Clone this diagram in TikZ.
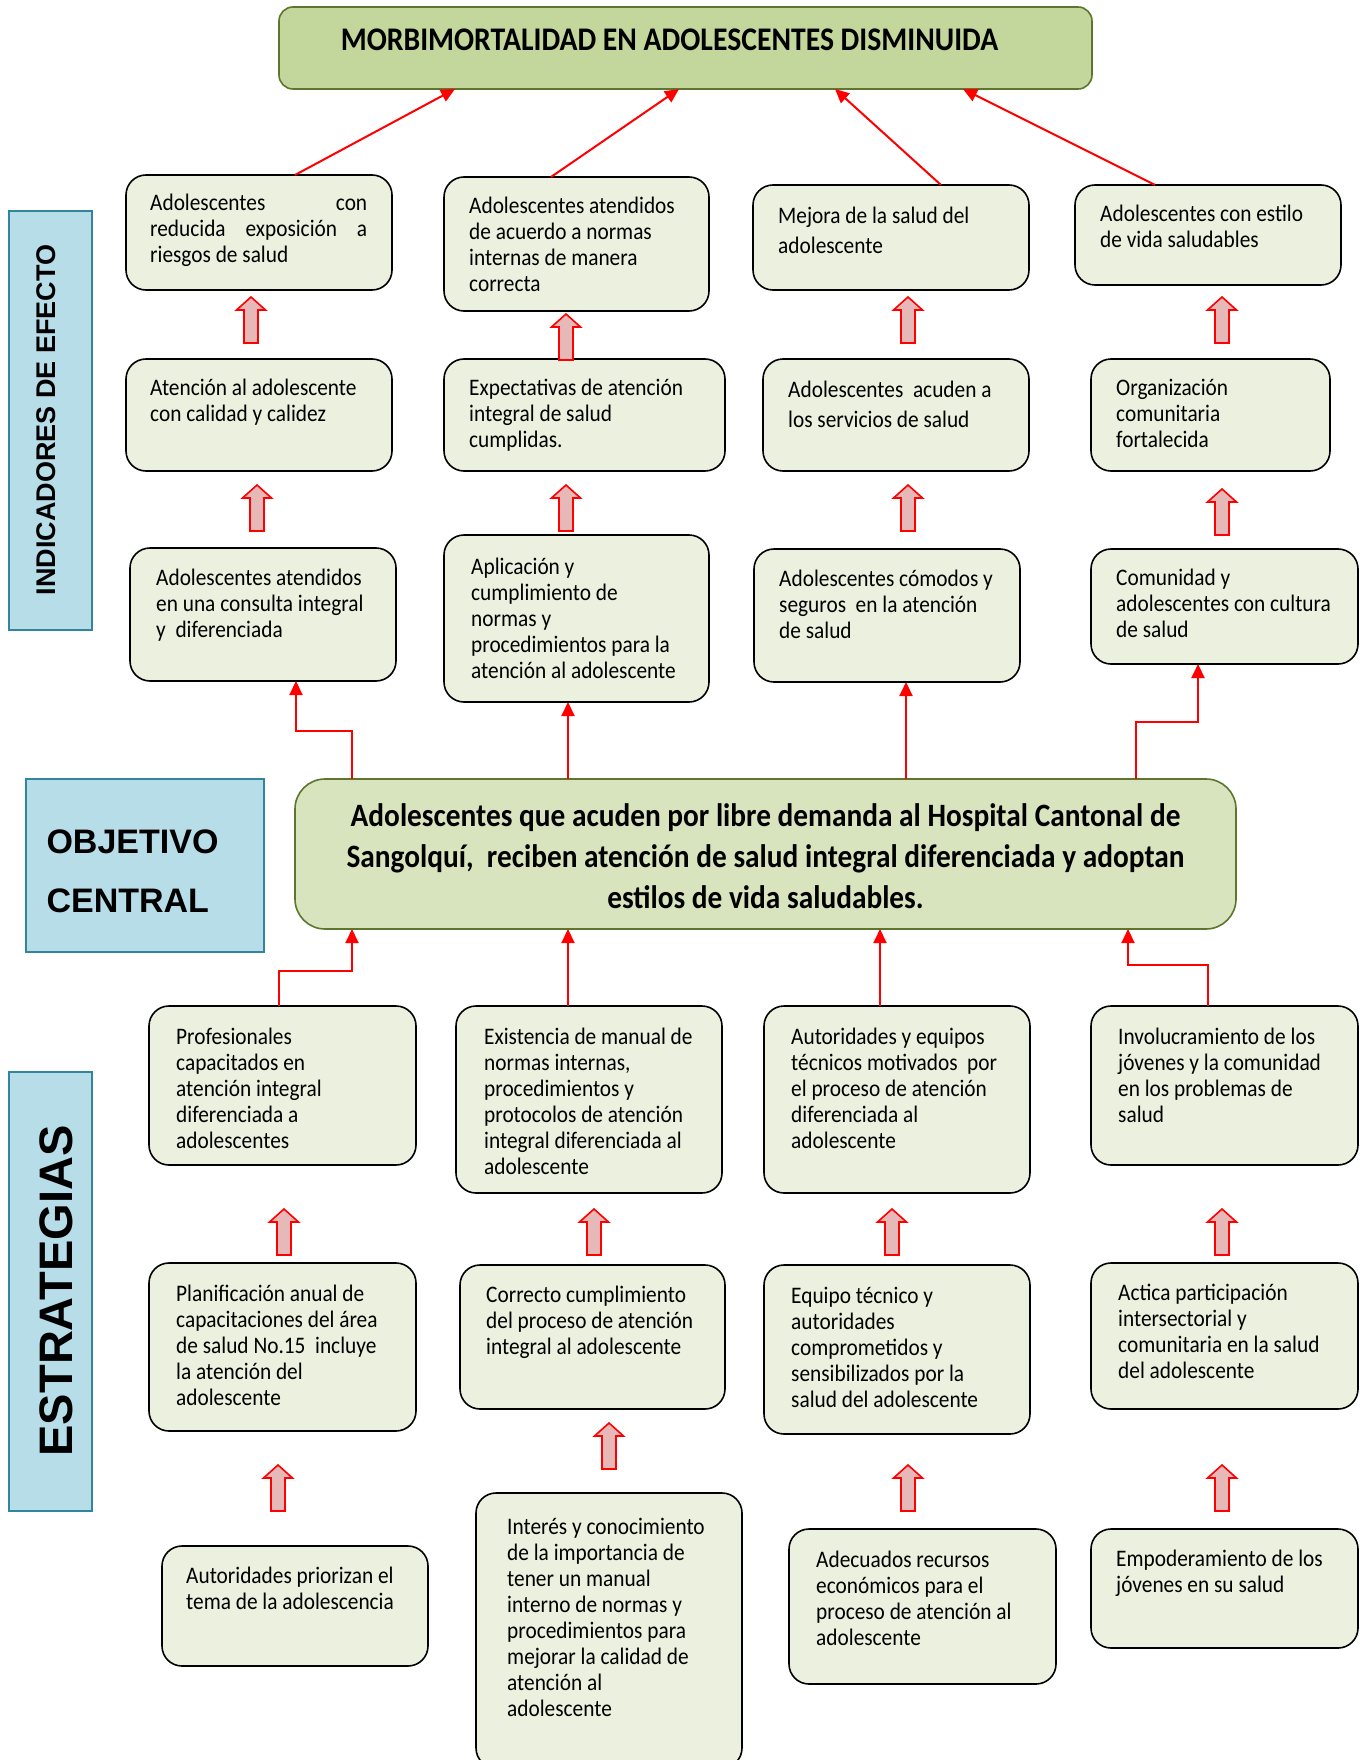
\documentclass[tikz,border=0pt]{standalone}
\usepackage{fontspec}
\setmainfont{Carlito}[FakeStretch=0.9]
\newfontfamily\arialf{Liberation Sans}
\usetikzlibrary{arrows.meta,calc}
\definecolor{boxfill}{HTML}{EBF1DE}
\definecolor{topfill}{HTML}{C3D69B}
\definecolor{cenfill}{HTML}{D7E4BD}
\definecolor{greenline}{HTML}{5E7530}
\definecolor{labfill}{HTML}{B7DDE8}
\definecolor{labline}{HTML}{31859C}
\definecolor{arrfill}{HTML}{E6B9B8}
\newcommand\bodyf{\fontsize{23.7}{26}\selectfont}
\newcommand\bodyw{\fontsize{23.7}{29.5}\selectfont}
\tikzset{
  cbox/.style={draw=black, line width=1.6pt, fill=boxfill, rounded corners=20pt, inner sep=0pt, outer sep=0pt, anchor=north west},
  txt/.style={anchor=north west, inner sep=0pt, align=left, font=\bodyf},
  lbox/.style={draw=labline, line width=1.6pt, fill=labfill, inner sep=0pt, outer sep=0pt, anchor=north west},
  rl/.style={draw=red, line width=2pt, -{Triangle[length=14pt,width=13pt]}},
  barr/.style={draw=red, line width=1.6pt, fill=arrfill, line join=miter},
}
\newcommand\cb[5]{\node[cbox, minimum width={(#4-#2)*1pt}, minimum height={(#5-#3)*1pt}] (#1) at (#2,#3) {};}
\newcommand\tx[5][]{\node[txt,#1] (#2) at (#3,#4-10) {\strut #5};}
\newcommand\uparr[2]{\draw[barr] (#1,#2) -- (#1+14.5,#2+13) -- (#1+7,#2+13) -- (#1+7,#2+46) -- (#1-7,#2+46) -- (#1-7,#2+13) -- (#1-14.5,#2+13) -- cycle;}
\begin{document}
\begin{tikzpicture}[x=1pt,y=-1pt]
\clip (0,0) rectangle (1366,1760);
\fill[white] (0,0) rectangle (1366,1760);

% top box
\node[draw=greenline, line width=1.6pt, fill=topfill, rounded corners=14pt, inner sep=0pt, outer sep=0pt, anchor=north west, minimum width=813pt, minimum height=82pt] (T) at (279,7) {};
\node[font=\fontsize{33}{40}\selectfont\bfseries] (Tt) at (669.5,40) {MORBIMORTALIDAD EN ADOLESCENTES DISMINUIDA};

% side labels
\node[lbox, minimum width=83pt, minimum height=419pt] (L1) at (9,211) {};
\node[rotate=90, font=\fontsize{27}{30}\selectfont\arialf\bfseries] (L1t) at (46,420) {INDICADORES DE EFECTO};
\node[lbox, minimum width=238pt, minimum height=173pt] (L2) at (26,779) {};
\node[anchor=west, align=left, font=\fontsize{34}{59}\selectfont\arialf\bfseries] (L2t) at (43,871.5) {OBJETIVO\\CENTRAL};
\node[lbox, minimum width=83pt, minimum height=439pt] (L3) at (9,1072) {};
\node[rotate=90, font=\fontsize{47}{50}\selectfont\arialf\bfseries] (L3t) at (56,1291) {ESTRATEGIAS};

% central box
\node[draw=greenline, line width=1.6pt, fill=cenfill, rounded corners=30pt, inner sep=0pt, outer sep=0pt, anchor=north west, minimum width=941pt, minimum height=150pt] (C) at (295,779) {};
\node[align=center, font=\fontsize{32.6}{41}\selectfont\bfseries] (Ct) at (765.5,856) {Adolescentes que acuden por libre demanda al Hospital Cantonal de\\Sangolquí,\ \ reciben atención de salud integral diferenciada y adoptan\\estilos de vida saludables.};

% effect row 1
\cb{E1a}{126}{175}{392}{290}
\tx{E1at}{150}{202}{\hbox to 217pt{Adolescentes\hfill con}\\\hbox to 217pt{reducida\hfill exposición\hfill a}\\riesgos de salud}
\cb{E1b}{444}{177}{709}{311}
\tx{E1bt}{469}{205}{Adolescentes atendidos\\de acuerdo a normas\\internas de manera\\correcta}
\cb{E1c}{753}{185}{1029}{290}
\tx[font=\bodyw]{E1ct}{778}{213}{Mejora de la salud del\\adolescente}
\cb{E1d}{1075}{185}{1341}{285}
\tx{E1dt}{1100}{213}{Adolescentes con estilo\\de vida saludables}

% effect row 2
\cb{E2a}{126}{359}{392}{471}
\tx{E2at}{150}{387}{Atención al adolescente\\con calidad y calidez}
\cb{E2b}{444}{359}{725}{471}
\tx{E2bt}{469}{387}{Expectativas de atención\\integral de salud\\cumplidas.}
\cb{E2c}{763}{359}{1029}{471}
\tx[font=\bodyw]{E2ct}{788}{387}{Adolescentes\ \ acuden a\\los servicios de salud}
\cb{E2d}{1091}{359}{1330}{471}
\tx{E2dt}{1116}{387}{Organización\\comunitaria\\fortalecida}

% effect row 3
\cb{E3a}{130}{548}{396}{681}
\tx{E3at}{156}{577}{Adolescentes atendidos\\en una consulta integral\\y\ \ diferenciada}
\cb{E3b}{444}{535}{709}{702}
\tx{E3bt}{471}{566}{Aplicación y\\cumplimiento de\\normas y\\procedimientos para la\\atención al adolescente}
\cb{E3c}{754}{549}{1020}{682}
\tx{E3ct}{779}{578}{Adolescentes cómodos y\\seguros\ \ en la atención\\de salud}
\cb{E3d}{1091}{549}{1358}{664}
\tx{E3dt}{1116}{577}{Comunidad y\\adolescentes con cultura\\de salud}

% strategies row 1
\cb{S1a}{149}{1006}{416}{1165}
\tx{S1at}{176}{1036}{Profesionales\\capacitados en\\atención integral\\diferenciada a\\adolescentes}
\cb{S1b}{456}{1006}{722}{1193}
\tx{S1bt}{484}{1036}{Existencia de manual de\\normas internas,\\procedimientos y\\protocolos de atención\\integral diferenciada al\\adolescente}
\cb{S1c}{764}{1006}{1030}{1193}
\tx{S1ct}{791}{1036}{Autoridades y equipos\\técnicos motivados\ \ por\\el proceso de atención\\diferenciada al\\adolescente}
\cb{S1d}{1091}{1006}{1358}{1165}
\tx{S1dt}{1118}{1036}{Involucramiento de los\\jóvenes y la comunidad\\en los problemas de\\salud}

% strategies row 2
\cb{S2a}{149}{1263}{416}{1431}
\tx{S2at}{176}{1293}{Planificación anual de\\capacitaciones del área\\de salud No.15\ \ incluye\\la atención del\\adolescente}
\cb{S2b}{460}{1265}{725}{1409}
\tx{S2bt}{486}{1294}{Correcto cumplimiento\\del proceso de atención\\integral al adolescente}
\cb{S2c}{764}{1265}{1030}{1434}
\tx{S2ct}{791}{1295}{Equipo técnico y\\autoridades\\comprometidos y\\sensibilizados por la\\salud del adolescente}
\cb{S2d}{1091}{1263}{1358}{1409}
\tx{S2dt}{1118}{1292}{Actica participación\\intersectorial y\\comunitaria en la salud\\del adolescente}

% strategies row 3
\cb{S3a}{162}{1546}{428}{1666}
\tx{S3at}{186}{1575}{Autoridades priorizan el\\tema de la adolescencia}
\cb{S3b}{476}{1493}{742}{1768}
\tx{S3bt}{507}{1526}{Interés y conocimiento\\de la importancia de\\tener un manual\\interno de normas y\\procedimientos para\\mejorar la calidad de\\atención al\\adolescente}
\cb{S3c}{789}{1529}{1056}{1684}
\tx{S3ct}{816}{1559}{Adecuados recursos\\económicos para el\\proceso de atención al\\adolescente}
\cb{S3d}{1091}{1529}{1358}{1648}
\tx{S3dt}{1116}{1558}{Empoderamiento de los\\jóvenes en su salud}

% effects -> top
\draw[rl] ([xshift=169pt]E1a.north west) -- ([xshift=176pt]T.south west);
\draw[rl] ([xshift=107pt]E1b.north west) -- ([xshift=400pt]T.south west);
\draw[rl] ([xshift=188pt]E1c.north west) -- ([xshift=556pt]T.south west);
\draw[rl] ([xshift=80pt]E1d.north west) -- ([xshift=684pt]T.south west);

% central -> effect row 3
\draw[rl] ([xshift=57pt]C.north west) -- ++(0,-48) -| ([xshift=166pt]E3a.south west);
\draw[rl] ([xshift=273pt]C.north west) -- ([xshift=273pt]C.north west |- E3b.south);
\draw[rl] ([xshift=611pt]C.north west) -- ([xshift=611pt]C.north west |- E3c.south);
\draw[rl] ([xshift=841pt]C.north west) -- ++(0,-57) -| ([xshift=107pt]E3d.south west);

% strategies row 1 -> central
\draw[rl] ([xshift=130pt]S1a.north west) -- ++(0,-35) -| ([xshift=57pt]C.south west);
\draw[rl] ([xshift=112pt]S1b.north west) -- ([xshift=112pt]S1b.north west |- C.south);
\draw[rl] ([xshift=116pt]S1c.north west) -- ([xshift=116pt]S1c.north west |- C.south);
\draw[rl] ([xshift=117pt]S1d.north west) -- ++(0,-41) -| ([xshift=833pt]C.south west);

% block arrows
\uparr{251}{297} \uparr{566}{314} \uparr{908}{297} \uparr{1222}{297}
\uparr{257}{485} \uparr{566}{485} \uparr{908}{485} \uparr{1222}{489}
\uparr{284}{1209} \uparr{594}{1209} \uparr{892}{1209} \uparr{1222}{1209}
\uparr{278}{1465} \uparr{609}{1423} \uparr{908}{1465} \uparr{1222}{1465}
\end{tikzpicture}
\end{document}
